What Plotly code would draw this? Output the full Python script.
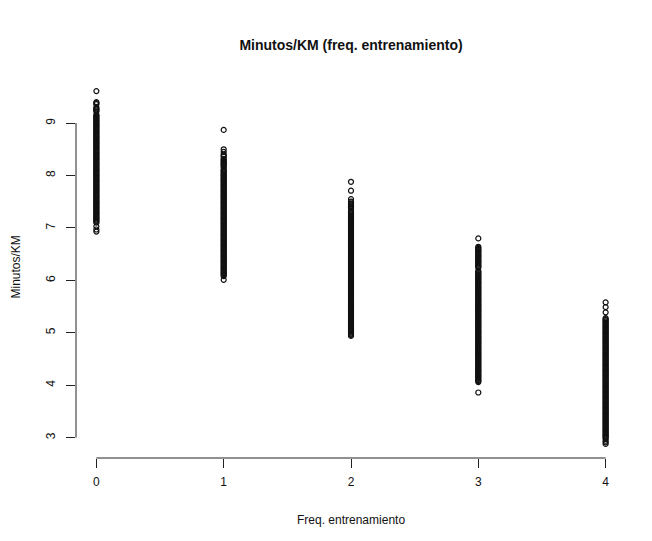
import plotly.graph_objects as go

title_text = "Minutos/KM (freq. entrenamiento)"
x_label = "Freq. entrenamiento"
y_label = "Minutos/KM"

freq_levels = [0, 1, 2, 3, 4]
x_ticks = [0, 1, 2, 3, 4]
y_ticks = [3, 4, 5, 6, 7, 8, 9]

min_km_f0 = [
    6.93, 6.97, 7.03,
    7.10, 7.12, 7.14, 7.16, 7.18, 7.20, 7.22, 7.24, 7.26, 7.28,
    7.30, 7.32, 7.34, 7.36, 7.38, 7.40, 7.42, 7.44, 7.46, 7.48,
    7.50, 7.52, 7.54, 7.56, 7.58, 7.60, 7.62, 7.64, 7.66, 7.68,
    7.70, 7.72, 7.74, 7.76, 7.78, 7.80, 7.82, 7.84, 7.86, 7.88,
    7.90, 7.92, 7.94, 7.96, 7.98, 8.00, 8.02, 8.04, 8.06, 8.08,
    8.10, 8.12, 8.14, 8.16, 8.18, 8.20, 8.22, 8.24, 8.26, 8.28,
    8.30, 8.32, 8.34, 8.36, 8.38, 8.40, 8.42, 8.44, 8.46, 8.48,
    8.50, 8.52, 8.54, 8.56, 8.58, 8.60, 8.62, 8.64, 8.66, 8.68,
    8.70, 8.72, 8.74, 8.76, 8.78, 8.80, 8.82, 8.84, 8.86, 8.88,
    8.90, 8.92, 8.94, 8.96, 8.98, 9.00, 9.02, 9.04, 9.06, 9.08,
    9.10, 9.12, 9.14, 9.16, 9.22, 9.24, 9.26, 9.28,
    9.30, 9.36, 9.38, 9.40,
    9.61,
]

min_km_f1 = [
    6.01,
    6.08, 6.10, 6.12, 6.14, 6.16, 6.18, 6.20, 6.22, 6.24, 6.26, 6.28,
    6.30, 6.32, 6.34, 6.36, 6.38, 6.40, 6.42, 6.44, 6.46, 6.48,
    6.50, 6.52, 6.54, 6.56, 6.58, 6.60, 6.62, 6.64, 6.66, 6.68,
    6.70, 6.72, 6.74, 6.76, 6.78, 6.80, 6.82, 6.84, 6.86, 6.88,
    6.90, 6.92, 6.94, 6.96, 6.98, 7.00, 7.02, 7.04, 7.06, 7.08,
    7.10, 7.12, 7.14, 7.16, 7.18, 7.20, 7.22, 7.24, 7.26, 7.28,
    7.30, 7.32, 7.34, 7.36, 7.38, 7.40, 7.42, 7.44, 7.46, 7.48,
    7.50, 7.52, 7.54, 7.56, 7.58, 7.60, 7.62, 7.64, 7.66, 7.68,
    7.70, 7.72, 7.74, 7.76, 7.78, 7.80, 7.82, 7.84, 7.86, 7.88,
    7.90, 7.92, 7.94, 7.96, 7.98, 8.00, 8.02, 8.04, 8.06, 8.08,
    8.10, 8.12, 8.16, 8.18, 8.20, 8.22, 8.24, 8.26, 8.28,
    8.30, 8.32, 8.36, 8.38, 8.40,
    8.45, 8.50, 8.87,
]

min_km_f2 = [
    4.94, 4.96, 4.98, 5.00, 5.02, 5.04, 5.06, 5.08,
    5.10, 5.12, 5.14, 5.16, 5.18, 5.20, 5.22, 5.24, 5.26, 5.28,
    5.30, 5.32, 5.34, 5.36, 5.38, 5.40, 5.42, 5.44, 5.46, 5.48,
    5.50, 5.52, 5.54, 5.56, 5.58, 5.60, 5.62, 5.64, 5.66, 5.68,
    5.70, 5.72, 5.74, 5.76, 5.78, 5.80, 5.82, 5.84, 5.86, 5.88,
    5.90, 5.92, 5.94, 5.96, 5.98, 6.00, 6.02, 6.04, 6.06, 6.08,
    6.10, 6.12, 6.14, 6.16, 6.18, 6.20, 6.22, 6.24, 6.26, 6.28,
    6.30, 6.32, 6.34, 6.36, 6.38, 6.40, 6.42, 6.44, 6.46, 6.48,
    6.50, 6.52, 6.54, 6.56, 6.58, 6.60, 6.62, 6.64, 6.66, 6.68,
    6.70, 6.72, 6.74, 6.76, 6.78, 6.80, 6.82, 6.84, 6.86, 6.88,
    6.90, 6.92, 6.94, 6.96, 6.98, 7.00, 7.02, 7.04, 7.06, 7.08,
    7.10, 7.12, 7.14, 7.16, 7.18, 7.20, 7.22, 7.24, 7.26, 7.28,
    7.30, 7.32, 7.37, 7.39, 7.41, 7.43, 7.45, 7.47, 7.50,
    7.55, 7.71, 7.88,
]

min_km_f3 = [
    3.86,
    4.06, 4.08,
    4.10, 4.12, 4.14, 4.16, 4.18, 4.20, 4.22, 4.24, 4.26, 4.28,
    4.30, 4.32, 4.34, 4.36, 4.38, 4.40, 4.42, 4.44, 4.46, 4.48,
    4.50, 4.52, 4.54, 4.56, 4.58, 4.60, 4.62, 4.64, 4.66, 4.68,
    4.70, 4.72, 4.74, 4.76, 4.78, 4.80, 4.82, 4.84, 4.86, 4.88,
    4.90, 4.92, 4.94, 4.96, 4.98, 5.00, 5.02, 5.04, 5.06, 5.08,
    5.10, 5.12, 5.14, 5.16, 5.18, 5.20, 5.22, 5.24, 5.26, 5.28,
    5.30, 5.32, 5.34, 5.36, 5.38, 5.40, 5.42, 5.44, 5.46, 5.48,
    5.50, 5.52, 5.54, 5.56, 5.58, 5.60, 5.62, 5.64, 5.66, 5.68,
    5.70, 5.72, 5.74, 5.76, 5.78, 5.80, 5.82, 5.84, 5.86, 5.88,
    5.90, 5.92, 5.94, 5.96, 5.98, 6.00, 6.02, 6.04, 6.06, 6.08,
    6.10, 6.12, 6.14, 6.16, 6.18, 6.24, 6.26, 6.28,
    6.30, 6.32, 6.34, 6.36, 6.38, 6.40, 6.42, 6.44, 6.46, 6.48,
    6.50, 6.52, 6.54, 6.56, 6.58, 6.60, 6.62, 6.64,
    6.80,
]

min_km_f4 = [
    2.88, 2.91, 2.94,
    2.98, 3.00, 3.02, 3.04, 3.06, 3.08,
    3.10, 3.12, 3.14, 3.16, 3.18, 3.20, 3.22, 3.24, 3.26, 3.28,
    3.30, 3.32, 3.34, 3.36, 3.38, 3.40, 3.42, 3.44, 3.46, 3.48,
    3.50, 3.52, 3.54, 3.56, 3.58, 3.60, 3.62, 3.64, 3.66, 3.68,
    3.70, 3.72, 3.74, 3.76, 3.78, 3.80, 3.82, 3.84, 3.86, 3.88,
    3.90, 3.92, 3.94, 3.96, 3.98, 4.00, 4.02, 4.04, 4.06, 4.08,
    4.10, 4.12, 4.14, 4.16, 4.18, 4.20, 4.22, 4.24, 4.26, 4.28,
    4.30, 4.32, 4.34, 4.36, 4.38, 4.40, 4.42, 4.44, 4.46, 4.48,
    4.50, 4.52, 4.54, 4.56, 4.58, 4.60, 4.62, 4.64, 4.66, 4.68,
    4.70, 4.72, 4.74, 4.76, 4.78, 4.80, 4.82, 4.84, 4.86, 4.88,
    4.90, 4.92, 4.94, 4.96, 4.98, 5.00, 5.02, 5.04, 5.06, 5.08,
    5.10, 5.12, 5.14, 5.16, 5.18, 5.20, 5.22, 5.24, 5.26, 5.28,
    5.39, 5.49, 5.58,
]

columns = [min_km_f0, min_km_f1, min_km_f2, min_km_f3, min_km_f4]

xs, ys = [], []
for lvl, vals in zip(freq_levels, columns):
    xs.extend([lvl] * len(vals))
    ys.extend(vals)

FONT = "Liberation Sans, Arial, sans-serif"
AX = "#222222"

fig = go.Figure()
fig.add_trace(go.Scatter(
    x=xs, y=ys, mode="markers",
    marker=dict(symbol="circle-open", size=5, color="#111111",
                line=dict(width=1.2, color="#111111")),
    showlegend=False, hoverinfo="x+y",
))

ymin, ymax = min(ys), max(ys)
ypad = (ymax - ymin) * 0.04
xpad = (max(freq_levels) - min(freq_levels)) * 0.04

fig.update_layout(
    width=652, height=541,
    margin=dict(l=68, r=34, t=69, b=91),
    paper_bgcolor="white", plot_bgcolor="white",
    font=dict(family=FONT, size=12, color="#111111"),
    title=dict(text="<b>" + title_text + "</b>", xref="paper", x=0.5,
               xanchor="center", y=1 - 37 / 541, yanchor="middle",
               font=dict(family=FONT, size=14, color="#111111")),
    xaxis=dict(range=[min(freq_levels) - xpad, max(freq_levels) + xpad],
               tickmode="array", tickvals=x_ticks,
               ticktext=[str(t) for t in x_ticks],
               showgrid=False, zeroline=False, showline=False,
               ticks="outside", ticklen=9, tickwidth=1, tickcolor=AX,
               ticklabelstandoff=4,
               tickfont=dict(family=FONT, size=12, color="#111111")),
    yaxis=dict(range=[ymin - ypad, ymax + ypad],
               tickmode="array", tickvals=y_ticks,
               ticktext=[str(t) for t in y_ticks],
               showgrid=False, zeroline=False, showline=False,
               ticks="outside", ticklen=9, tickwidth=1, tickcolor=AX,
               tickangle=-90, ticklabelstandoff=6,
               tickfont=dict(family=FONT, size=12, color="#111111")),
    shapes=[
        dict(type="line", xref="x", yref="paper",
             x0=x_ticks[0], x1=x_ticks[-1], y0=0, y1=0,
             line=dict(color=AX, width=1)),
        dict(type="line", xref="paper", yref="y",
             x0=0, x1=0, y0=y_ticks[0], y1=y_ticks[-1],
             line=dict(color=AX, width=1)),
    ],
    annotations=[
        dict(text=x_label, xref="paper", yref="paper", x=0.5, y=0,
             xanchor="center", yanchor="middle", yshift=-62,
             showarrow=False, font=dict(family=FONT, size=12, color="#111111")),
        dict(text=y_label, xref="paper", yref="paper", x=0, y=0.5,
             xanchor="center", yanchor="middle", xshift=-61, textangle=-90,
             showarrow=False, font=dict(family=FONT, size=12, color="#111111")),
    ],
)

fig.write_html("out.html")
